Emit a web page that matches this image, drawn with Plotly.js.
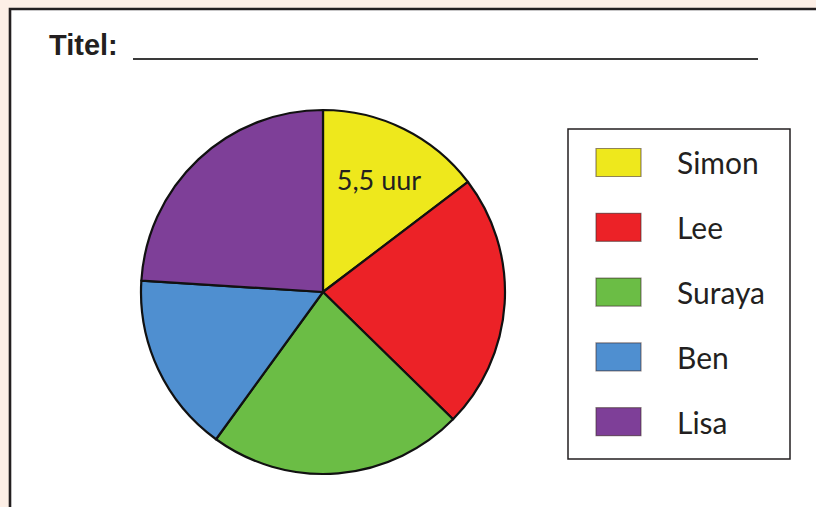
<!DOCTYPE html>
<html>
<head>
<meta charset="utf-8">
<script src="https://cdn.plot.ly/plotly-3.0.1.min.js"></script>
<style>
  html, body { margin: 0; padding: 0; background: #fdefe6; }
  #chart { width: 816px; height: 507px; }
</style>
</head>
<body>
<div id="chart"></div>
<script>
const labels = ["Simon", "Lee", "Suraya", "Ben", "Lisa"];
const hours = [5.5, 8.5, 8.5, 6, 9];
const colors = ["#eee81c", "#ec2227", "#6bbd45", "#4f8fd0", "#7e3f98"];
const shownLabelIndex = [0];
const titleText = "Titel:";
const unit = "uur";

const W = 816, H = 507;
const px = x => x / W;
const py = y => 1 - y / H;

const sliceText = hours.map((v, i) =>
  shownLabelIndex.includes(i) ? String(v).replace(".", ",") + " " + unit : "");

const cx = 323, cy = 292, r = 182;

const trace = {
  type: "pie",
  labels: labels,
  values: hours,
  text: sliceText,
  textinfo: "text",
  textposition: "inside",
  insidetextorientation: "horizontal",
  textfont: { family: "Lato, 'Open Sans', sans-serif", size: 27, color: "#231f20" },
  marker: { colors: colors, line: { color: "#111111", width: 2.2 } },
  sort: false,
  direction: "clockwise",
  rotation: 0,
  showlegend: false,
  hoverinfo: "label+value",
  domain: { x: [px(cx - r), px(cx + r)], y: [py(cy + r), py(cy - r)] }
};

const shapes = [];
const annotations = [];

// white panel with dark frame
shapes.push({ type: "rect", xref: "paper", yref: "paper", layer: "below",
  x0: px(10), x1: px(840), y0: py(540), y1: py(9),
  fillcolor: "#ffffff", line: { color: "#231f20", width: 2.6 } });

// title + blank line
annotations.push({ xref: "paper", yref: "paper", x: px(47), y: py(45),
  xanchor: "left", yanchor: "middle", showarrow: false, text: "<b>" + titleText + "</b>",
  font: { family: "'Liberation Sans Narrow', 'Arial Narrow', 'Liberation Sans', sans-serif", size: 29, color: "#231f20" } });
shapes.push({ type: "line", xref: "paper", yref: "paper",
  x0: px(133), x1: px(758), y0: py(59), y1: py(59),
  line: { color: "#3a3a3a", width: 2 } });

// legend box
shapes.push({ type: "rect", xref: "paper", yref: "paper",
  x0: px(568), x1: px(790), y0: py(459), y1: py(129),
  fillcolor: "rgba(0,0,0,0)", line: { color: "#231f20", width: 1.5 } });
labels.forEach((lab, i) => {
  const yc = 162.5 + i * 64.8;
  shapes.push({ type: "rect", xref: "paper", yref: "paper",
    x0: px(596), x1: px(641), y0: py(yc + 14), y1: py(yc - 14),
    fillcolor: colors[i], line: { color: "rgba(60,40,40,0.55)", width: 1.2 } });
  annotations.push({ xref: "paper", yref: "paper", x: px(675), y: py(yc),
    xanchor: "left", yanchor: "middle", showarrow: false, text: lab,
    font: { family: "Lato, 'Open Sans', sans-serif", size: 30, color: "#231f20" } });
});

const layout = {
  width: W, height: H,
  margin: { l: 0, r: 0, t: 0, b: 0 },
  paper_bgcolor: "#fdefe6",
  plot_bgcolor: "#fdefe6",
  showlegend: false,
  shapes: shapes,
  annotations: annotations
};

Plotly.newPlot("chart", [trace], layout, { displayModeBar: false, staticPlot: true });
</script>
</body>
</html>
